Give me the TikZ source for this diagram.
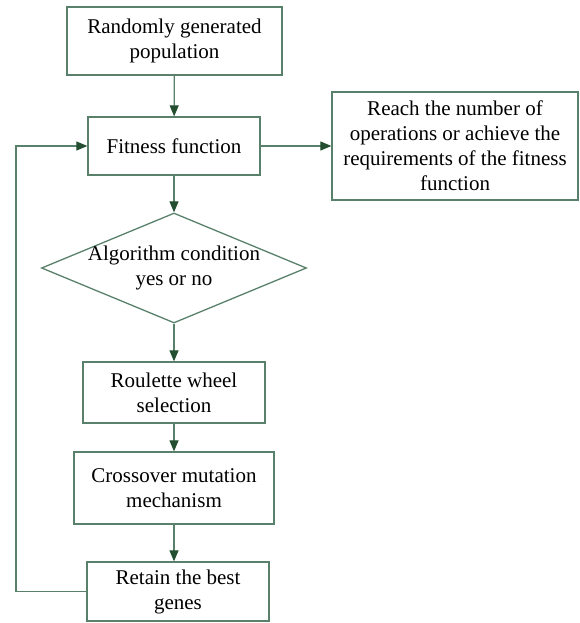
\documentclass[tikz,border=0pt]{standalone}
\usepackage{fontspec}
\setmainfont{Liberation Serif}
\usetikzlibrary{%
  arrows.meta,%
  shapes.geometric,% wg. diamond
  positioning%
}
\definecolor{boxline}{RGB}{88,128,106}
\definecolor{tipgreen}{RGB}{36,78,48}

\begin{document}
\begin{tikzpicture}
[x=1pt, y=-1pt, draw=boxline, line width=1.3pt,
>={Triangle[length=11pt,width=9pt,color=tipgreen]},
every node/.style={font=\fontsize{21}{25}\selectfont, align=center},
stepbox/.style={rectangle, draw=boxline, inner sep=0pt},
cond/.style={diamond, draw=boxline, inner sep=0pt, minimum width=265pt, minimum height=110pt},
link/.style={->, draw=boxline, line width=1.2pt}]

\useasboundingbox (0,0) rectangle (580,623);

\node[stepbox, minimum width=215pt, minimum height=68pt] (pop) at (174.5,41) {Randomly generated\\population};
\node[stepbox, minimum width=172pt, minimum height=58pt] (fit) at (174,146) {Fitness function};
\node[stepbox, minimum width=246pt, minimum height=108pt] (reach) at (455,146) {Reach the number of\\operations or achieve the\\requirements of the fitness\\function};
\node[cond, label={[align=center]center:Algorithm condition\\yes or no}] (alg) at (174,268) {};
\node[stepbox, minimum width=182pt, minimum height=61pt] (roul) at (174,392.5) {Roulette wheel\\selection};
\node[stepbox, minimum width=200pt, minimum height=72pt] (cross) at (174,488) {Crossover mutation\\mechanism};
\node[stepbox, minimum width=182pt, minimum height=59pt] (keep) at (178,591.5) {Retain the best\\genes};

\coordinate (back) at (16,591.5);

\draw[link] (pop) -- (fit);
\draw[link] (fit) -- (reach);
\draw[link] (fit) -- (alg);
\draw[link] (alg) -- (roul);
\draw[link] (roul) -- (cross);
\draw[link] (cross.south) -- (cross.south |- keep.north);
\draw[link] (keep.west) -- (back) |- (fit.west);

\end{tikzpicture}
\end{document}
